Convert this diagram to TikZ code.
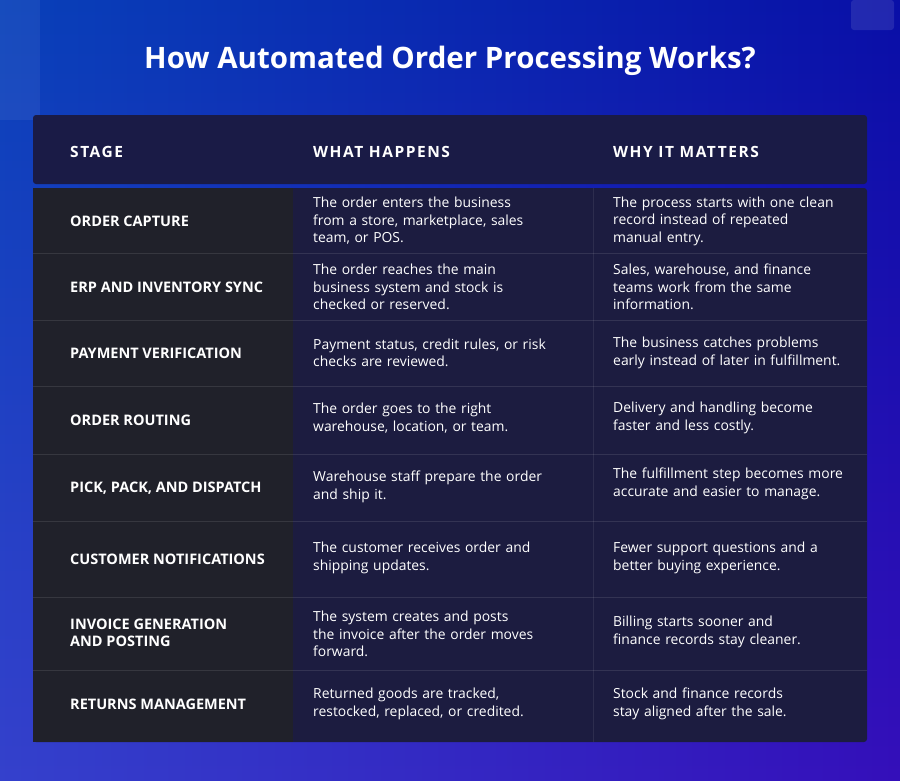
\documentclass[tikz,border=0pt]{standalone}
\usepackage{fontspec}
\setmainfont{Open Sans}
\definecolor{bgA}{RGB}{20,120,210}
\definecolor{bgB}{RGB}{20,10,170}
\definecolor{bgC}{RGB}{0,20,165}
\definecolor{bgD}{RGB}{80,20,200}
\definecolor{hdr}{RGB}{26,27,70}
\definecolor{body}{RGB}{28,28,64}
\definecolor{col1}{RGB}{32,33,42}
\begin{document}
\begin{tikzpicture}[x=1pt,y=-1pt,
  hd/.style={anchor=west,inner sep=0pt,text=white,font=\fontsize{15.5}{17}\selectfont\bfseries\addfontfeature{LetterSpace=10}},
  st/.style={anchor=west,inner sep=0pt,text=white,align=left,font=\fontsize{14.5}{17}\selectfont\bfseries},
  bd/.style={anchor=west,text=white,align=left,text width=270pt,inner sep=0pt,font=\fontsize{13.9}{17.5}\selectfont}]
\useasboundingbox (0,0) rectangle (900,780);
\shade[left color=bgA, right color=bgB] (0,0) rectangle (900,780);
\shade[top color=bgC,bottom color=bgD,opacity=0.55] (0,0) rectangle (900,780);
\fill[white,opacity=0.06] (0,0) rectangle (40,120);
\fill[white,opacity=0.1,rounded corners=3] (851,0) rectangle (894,30);
\node[text=white,font=\fontsize{29.5}{32}\selectfont\bfseries] (title) at (450,61) {How Automated Order Processing Works?};
\fill[hdr,rounded corners=3] (33,115) rectangle (867,184);
\node[hd] (h1) at (70,152) {STAGE};
\node[hd] (h2) at (313,152) {WHAT HAPPENS};
\node[hd] (h3) at (613,152) {WHY IT MATTERS};
\fill[body,rounded corners=3] (33,188) rectangle (867,742);
\fill[col1] (33,188) rectangle (293,742);
\draw[white,opacity=0.08] (593,188) -- (593,742);
\foreach \y in {253,320,386,454,521,597,670} \draw[white,opacity=0.1] (33,\y) -- (867,\y);
\node[st] (s1) at (70,221) {ORDER CAPTURE};
\node[bd] (w1) at (313,221) {The order enters the business\\from a store, marketplace, sales\\team, or POS.};
\node[bd] (y1) at (613,221) {The process starts with one clean\\record instead of repeated\\manual entry.};
\node[st] (s2) at (70,287) {ERP AND INVENTORY SYNC};
\node[bd] (w2) at (313,287) {The order reaches the main\\business system and stock is\\checked or reserved.};
\node[bd] (y2) at (613,287) {Sales, warehouse, and finance\\teams work from the same\\information.};
\node[st] (s3) at (70,353) {PAYMENT VERIFICATION};
\node[bd] (w3) at (313,353) {Payment status, credit rules, or risk\\checks are reviewed.};
\node[bd] (y3) at (613,353) {The business catches problems\\early instead of later in fulfillment.};
\node[st] (s4) at (70,420) {ORDER ROUTING};
\node[bd] (w4) at (313,418) {The order goes to the right\\warehouse, location, or team.};
\node[bd] (y4) at (613,418) {Delivery and handling become\\faster and less costly.};
\node[st] (s5) at (70,488) {PICK, PACK, AND DISPATCH};
\node[bd] (w5) at (313,487) {Warehouse staff prepare the order\\and ship it.};
\node[bd] (y5) at (613,484) {The fulfillment step becomes more\\accurate and easier to manage.};
\node[st] (s6) at (70,559) {CUSTOMER NOTIFICATIONS};
\node[bd] (w6) at (313,558) {The customer receives order and\\shipping updates.};
\node[bd] (y6) at (613,558) {Fewer support questions and a\\better buying experience.};
\node[st] (s7) at (70,633) {INVOICE GENERATION\\AND POSTING};
\node[bd] (w7) at (313,634) {The system creates and posts\\the invoice after the order moves\\forward.};
\node[bd] (y7) at (613,632) {Billing starts sooner and\\finance records stay cleaner.};
\node[st] (s8) at (70,704) {RETURNS MANAGEMENT};
\node[bd] (w8) at (313,704) {Returned goods are tracked,\\restocked, replaced, or credited.};
\node[bd] (y8) at (613,704) {Stock and finance records\\stay aligned after the sale.};
\end{tikzpicture}
\end{document}
